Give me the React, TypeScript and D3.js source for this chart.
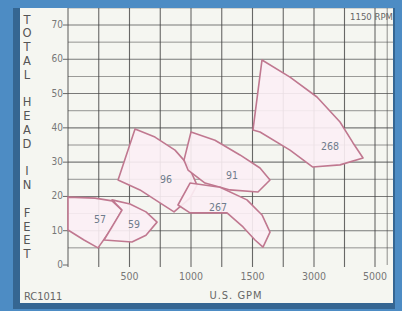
import React from 'react';
import * as d3 from 'd3';

// pump curve regions, [gpm, feet]
const r57: [number, number][] = [[0, 19.8], [220, 19.5], [358, 18.7], [439, 16.0], [358, 10.8], [244, 5.0], [130, 7.3], [0, 10.2]];
const r59: [number, number][] = [[358, 19.0], [504, 17.8], [634, 15.5], [724, 12.5], [634, 8.7], [520, 6.7], [293, 7.3], [439, 16.0]];
const r96: [number, number][] = [[545, 39.7], [707, 37.3], [870, 33.5], [976, 29.2], [1049, 23.3], [992, 19.5], [862, 15.5], [748, 18.1], [585, 21.9], [407, 24.8]];
const r91: [number, number][] = [[1000, 38.8], [1195, 36.4], [1398, 32.1], [1683, 28.3], [1927, 24.8], [1634, 21.3], [1317, 21.9], [1114, 23.9], [976, 27.7], [943, 30.6]];
const r267: [number, number][] = [[992, 23.9], [1236, 22.7], [1455, 19.0], [1732, 14.6], [1927, 9.6], [1756, 5.2], [1561, 7.3], [1423, 11.1], [1293, 15.2], [992, 15.2], [894, 17.5]];
const r268: [number, number][] = [[1732, 59.8], [2415, 54.8], [3098, 49.0], [3853, 41.7], [4280, 35.6], [4608, 31.2], [3853, 29.2], [2963, 28.6], [2415, 33.5], [1683, 38.8], [1512, 39.4]];

const regionNames = ['57', '59', '96', '91', '267', '268'];
const regionLabelAt: [number, number][] = [[260, 13.1], [537, 11.7], [797, 24.8], [1334, 25.9], [1220, 16.6], [3525, 34.4]];

const xTicks = [500, 1000, 1500, 3000, 5000];
const xGrid = [0, 250, 500, 750, 1000, 1250, 1500, 2250, 3000, 4000, 5000];
const yTicks = [0, 10, 20, 30, 40, 50, 60, 70];
const yGrid = [5, 10, 15, 20, 25, 30, 35, 40, 45, 50, 55, 60, 65, 70, 75];
const yTitle = 'TOTAL HEAD IN FEET';

const font = "'Liberation Sans Narrow', 'DejaVu Sans Condensed', sans-serif";

const App: React.FC = () => {
    const W = 402, H = 311;
    // odd axis on the original chart: linear up to 1500, then wider steps
    const x = d3.scaleLinear().domain([0, 1500, 3000, 5000]).range([68, 252.5, 314, 375]);
    const y = d3.scaleLinear().domain([0, 70]).range([265, 25]);
    const line = d3.line<[number, number]>().x(d => x(d[0])).y(d => y(d[1])).curve(d3.curveLinearClosed);
    const regions = [r57, r59, r96, r91, r267, r268];

    return (
        <svg width={W} height={H} style={{ position: 'absolute', left: 0, top: 0 }}>
            <rect x={0} y={0} width={W} height={H} fill="#4d8cc4" />
            <rect x={13} y={8} width={382} height={301} fill="#2f5d86" opacity={0.8} />
            <rect x={20} y={8} width={373} height={295} fill="#f5f6f1" />
            <clipPath id="panel"><rect x={20} y={8} width={373} height={295} /></clipPath>
            <g clipPath="url(#panel)">
                {yGrid.map(v => (
                    <line key={'h' + v} x1={x(0)} x2={400} y1={y(v)} y2={y(v)}
                        stroke="#505050" strokeWidth={v % 10 === 0 ? 1.1 : 0.8} opacity={0.75} />
                ))}
                {xGrid.map(v => (
                    <line key={'v' + v} x1={x(v)} x2={x(v)} y1={y(0) + 2} y2={y(75)}
                        stroke="#454545" strokeWidth={1.1} opacity={0.8} />
                ))}
                {[5400].map(v => (
                    <line key="extra" x1={x(v)} x2={x(v)} y1={y(0)} y2={y(75)} stroke="#4a4a4a" opacity={0.6} />
                ))}
                {yTicks.map(v => (
                    <line key={'t' + v} x1={x(0) - 5} x2={x(0)} y1={y(v)} y2={y(v)} stroke="#666" />
                ))}
                {regions.map((r, i) => (
                    <path key={'r' + i} d={line(r) || ''} fill="#fcf0f5" fillOpacity={0.9}
                        stroke="#c07890" strokeWidth={1.6} strokeLinejoin="round" />
                ))}
                {regionNames.map((n, i) => (
                    <text key={'n' + n} x={x(regionLabelAt[i][0])} y={y(regionLabelAt[i][1])}
                        fontFamily={font} fontSize={10.5}
                        fill="#6f7c8c" textAnchor="middle" dominantBaseline="middle">{n}</text>
                ))}
            </g>
            {yTicks.map(v => (
                <text key={'yl' + v} x={x(0) - 5} y={y(v)} textAnchor="end" dominantBaseline="middle"
                    fontFamily={font} fontSize={10} fill="#777">{v}</text>
            ))}
            {xTicks.map(v => (
                <text key={'xl' + v} x={x(v)} y={277} textAnchor="middle" dominantBaseline="middle"
                    fontFamily={font} fontSize={10.5} fill="#777">{v}</text>
            ))}
            {yTitle.split('').map((c, i) => (
                <text key={'yt' + i} x={27} y={20 + i * 13.8} textAnchor="middle" dominantBaseline="middle"
                    fontFamily="'DejaVu Sans', sans-serif" fontSize={11.5} fill="#555">{c}</text>
            ))}
            <text x={393} y={17} textAnchor="end" dominantBaseline="middle"
                fontFamily={font} fontSize={9.5} fill="#666">1150 RPM</text>
            <text x={24} y={297} dominantBaseline="middle"
                fontFamily={font} fontSize={11} fill="#666">RC1011</text>
            <text x={236} y={296} textAnchor="middle" dominantBaseline="middle"
                fontFamily={font} fontSize={11} fill="#666" letterSpacing={1}>U.S. GPM</text>
        </svg>
    );
};

export default App;
